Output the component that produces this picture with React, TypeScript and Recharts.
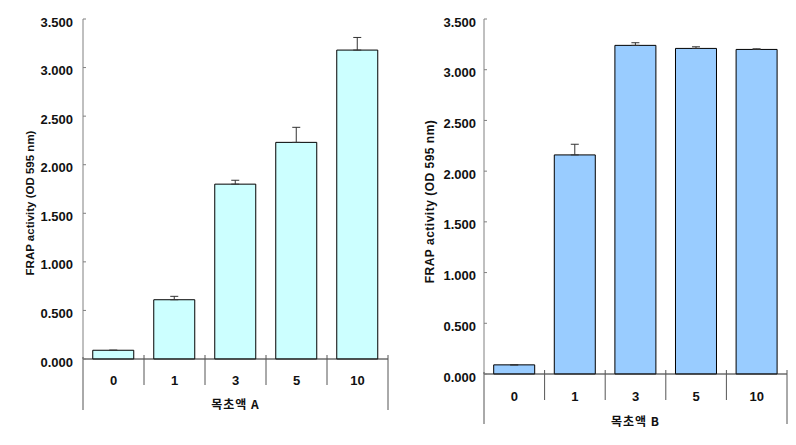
import React from 'react';
import { BarChart, Bar, XAxis, YAxis, ErrorBar } from 'recharts';

const categories = ['0', '1', '3', '5', '10'];
const valuesA = [0.09, 0.61, 1.8, 2.23, 3.18];
const errorsA = [0, 0.035, 0.04, 0.155, 0.13];
const valuesB = [0.09, 2.16, 3.24, 3.21, 3.2];
const errorsB = [0, 0.105, 0.026, 0.016, 0.006];
const yTicks = [0, 0.5, 1, 1.5, 2, 2.5, 3, 3.5];

const Y_TITLE = 'FRAP activity (OD 595 nm)';
const FONT = '"Liberation Sans", Arial, sans-serif';
const KFONT = '"Noto Sans CJK KR", "Liberation Sans", sans-serif';

const Y_W = 70;
const X_H = 60;

interface PanelProps {
  values: number[];
  errors: number[];
  fill: string;
  title: string;
  width: number;
  margin: { top: number; right: number; bottom: number; left: number };
  tickGap: number;
  titleDx: number;
  titleDy: number;
  titleSpacing: number;
  titleSize: number;
  labelDy: number;
  sepDy: number;
  outerDy: number;
  xTitleDy: number;
}

const Panel: React.FC<PanelProps> = (p) => {
  const height = 445;
  const data = categories.map((c, i) => ({ cat: c, value: p.values[i], err: [0, p.errors[i]] }));
  const plotW = p.width - p.margin.left - p.margin.right - Y_W;
  const band = plotW / categories.length;
  const last = categories.length - 1;

  const XTick = (props: any) => {
    const { x, y, payload } = props;
    const idx = payload.index ?? props.index;
    const half = band / 2;
    return (
      <g>
        {idx === 0 ? (
          <line x1={x - half} x2={x - half} y1={y - 2} y2={y + p.outerDy} stroke="#555" />
        ) : (
          <line x1={x - half} x2={x - half} y1={y - 4} y2={y + p.sepDy} stroke="#555" />
        )}
        {idx === last && (
          <line x1={x + half} x2={x + half} y1={y - 4} y2={y + p.outerDy} stroke="#555" />
        )}
        <text
          x={x}
          y={y + p.labelDy}
          textAnchor="middle"
          dominantBaseline="central"
          fontFamily={FONT}
          fontWeight="bold"
          fontSize={13}
          fill="#111"
        >
          {payload.value}
        </text>
      </g>
    );
  };

  const YTick = (props: any) => {
    const { x, y, payload } = props;
    return (
      <g>
        <line x1={x + p.tickGap} x2={x + p.tickGap + 3} y1={y} y2={y} stroke="#808080" />
        <text
          x={x}
          y={y + 3}
          textAnchor="end"
          dominantBaseline="central"
          fontFamily={FONT}
          fontWeight="bold"
          fontSize={13}
          fill="#111"
        >
          {Number(payload.value).toFixed(3)}
        </text>
      </g>
    );
  };

  const YTitle = (props: any) => {
    const vb = props.viewBox;
    const cx = vb.x + p.titleDx;
    const cy = vb.y + vb.height / 2 + p.titleDy;
    return (
      <text
        x={cx}
        y={cy}
        transform={`rotate(-90 ${cx} ${cy})`}
        textAnchor="middle"
        dominantBaseline="central"
        fontFamily={FONT}
        fontWeight="bold"
        fontSize={p.titleSize}
        letterSpacing={p.titleSpacing}
        fill="#111"
      >
        {Y_TITLE}
      </text>
    );
  };

  const XTitle = (props: any) => {
    const vb = props.viewBox;
    return (
      <text
        x={vb.x + vb.width / 2}
        y={vb.y + p.xTitleDy}
        textAnchor="middle"
        dominantBaseline="central"
        fontFamily={KFONT}
        fontWeight="bold"
        fontSize={12}
        letterSpacing={1}
        fill="#111"
      >
        {p.title}
      </text>
    );
  };

  return (
    <BarChart width={p.width} height={height} data={data} margin={p.margin} barCategoryGap="16%">
      <XAxis
        dataKey="cat"
        height={X_H}
        axisLine={{ stroke: '#222' }}
        tickLine={false}
        tickSize={0}
        tickMargin={0}
        interval={0}
        tick={<XTick />}
        label={{ content: XTitle }}
      />
      <YAxis
        width={Y_W}
        domain={[0, 3.5]}
        ticks={yTicks}
        interval={0}
        axisLine={{ stroke: '#808080' }}
        tickLine={false}
        tickSize={0}
        tickMargin={p.tickGap}
        tick={<YTick />}
        label={{ content: YTitle }}
      />
      <Bar dataKey="value" fill={p.fill} stroke="#000" strokeWidth={1} isAnimationActive={false}>
        <ErrorBar dataKey="err" direction="y" width={4} stroke="#333" strokeWidth={1} />
      </Bar>
    </BarChart>
  );
};

export default function App() {
  return (
    <div style={{ position: 'absolute', left: 0, top: 0, width: 796, height: 445, background: '#fff' }}>
      <div style={{ position: 'absolute', left: 0, top: 0 }}>
        <Panel
          values={valuesA}
          errors={errorsA}
          fill="#CCFFFF"
          title="목초액 A"
          width={400}
          margin={{ top: 19, right: 12, bottom: 26, left: 13 }}
          tickGap={10}
          titleDx={17}
          titleDy={14}
          titleSpacing={0}
          titleSize={11.5}
          labelDy={21}
          sepDy={26}
          outerDy={51}
          xTitleDy={44}
        />
      </div>
      <div style={{ position: 'absolute', left: 400, top: 0 }}>
        <Panel
          values={valuesB}
          errors={errorsB}
          fill="#99CCFF"
          title="목초액 B"
          width={396}
          margin={{ top: 19, right: 9, bottom: 11, left: 14 }}
          tickGap={8}
          titleDx={16}
          titleDy={5}
          titleSpacing={0.5}
          titleSize={12}
          labelDy={22}
          sepDy={26}
          outerDy={50}
          xTitleDy={46}
        />
      </div>
    </div>
  );
}
